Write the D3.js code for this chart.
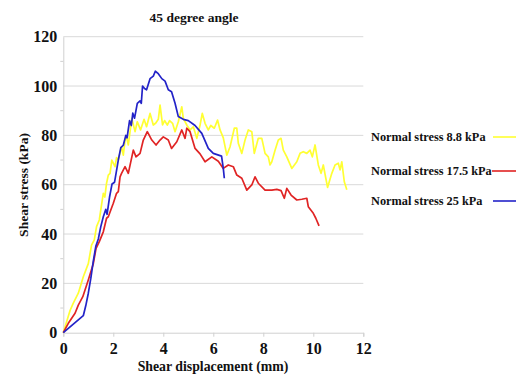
<!DOCTYPE html>
<html><head><meta charset="utf-8">
<script src="https://cdn.jsdelivr.net/npm/d3@7/dist/d3.min.js"></script>
<style>body{margin:0;background:#fff}svg{display:block}text{font-family:"Liberation Serif","Times New Roman",serif;font-weight:bold}</style>
</head><body><svg id="c" width="516" height="374"></svg>
<script>
const title = "45 degree angle";
const xLabel = "Shear displacement (mm)";
const yLabel = "Shear stress (kPa)";
const xTicks = [0,2,4,6,8,10,12];
const yTicks = [0,20,40,60,80,100,120];
const seriesNames = ["Normal stress 8.8 kPa","Normal stress 17.5 kPa","Normal stress 25 kPa"];
const seriesColors = ["#ffff33","#e02424","#2323c8"];

const yellow = [[0,0],[0.27,9],[0.4,12],[0.6,16],[0.8,22.7],[1.0,28],[1.13,35.5],[1.24,37.6],[1.33,43],[1.44,45.7],[1.54,52.5],[1.6,56.5],[1.66,55],[1.73,60.6],[1.8,63.9],[1.87,64.6],[1.94,70],[2.07,67.3],[2.13,71],[2.2,70],[2.33,75.4],[2.4,72],[2.47,78.1],[2.53,79.4],[2.6,76.1],[2.74,86.9],[2.87,81.5],[2.96,85.5],[3.09,82.2],[3.23,86.5],[3.33,83.5],[3.47,88.9],[3.6,84.2],[3.7,85],[3.8,86.5],[3.87,92.3],[3.97,84.2],[4.05,86],[4.16,84.2],[4.25,86],[4.37,84.9],[4.47,81.5],[4.6,85.5],[4.74,91.6],[4.8,86.9],[4.95,84],[5.07,82.2],[5.2,83.5],[5.34,78.8],[5.47,84.2],[5.56,88.9],[5.67,84.9],[5.8,82.2],[5.9,84],[6.04,82.9],[6.17,86.2],[6.27,82.2],[6.4,79],[6.54,72],[6.67,75.4],[6.84,82.9],[6.94,82.9],[7.0,76.8],[7.14,72.7],[7.27,78.1],[7.4,82.2],[7.54,81.5],[7.64,72.7],[7.8,78.8],[7.94,78.8],[8.07,72.7],[8.2,71.3],[8.27,68],[8.34,69.3],[8.47,74],[8.6,78.1],[8.71,78.8],[8.8,74],[8.94,71.3],[9.14,66.6],[9.34,69.3],[9.47,72.7],[9.6,73.4],[9.74,72.7],[9.87,74],[9.96,71.3],[10.07,76.1],[10.2,68],[10.31,64.6],[10.4,68],[10.57,58.9],[10.74,64.6],[10.87,68],[11.0,68.7],[11.07,66],[11.14,69.3],[11.24,61.2],[11.34,58]];

const red = [[0,0],[0.2,3.8],[0.47,7.9],[0.6,11.2],[0.78,14.6],[1.0,21.4],[1.2,28],[1.31,34.2],[1.44,36.9],[1.6,40.9],[1.73,46.4],[1.8,47],[2.0,52.5],[2.13,56.5],[2.2,57.2],[2.27,63.2],[2.33,64.6],[2.47,67.3],[2.6,64.6],[2.8,74],[2.91,71.3],[3.07,72.7],[3.2,78.1],[3.36,81.5],[3.54,78.1],[3.71,76.1],[3.87,78.1],[4.0,79.4],[4.2,78.1],[4.33,74.7],[4.54,77.4],[4.74,82.2],[4.87,78.8],[4.94,82.9],[5.07,81.5],[5.27,74.7],[5.47,72.5],[5.67,69.3],[5.94,71.3],[6.2,69.5],[6.4,66.6],[6.6,68],[6.8,67.3],[6.94,63.9],[7.14,62.6],[7.34,57.8],[7.54,59.9],[7.67,63.2],[7.8,60.6],[8.07,57.8],[8.34,57.8],[8.54,58.1],[8.71,57.6],[8.84,54.5],[8.94,58.5],[9.11,55.8],[9.34,53.8],[9.54,54.1],[9.74,54.5],[9.8,51.1],[10.0,48.4],[10.1,46.4],[10.23,43.3]];

const blue = [[0,0],[0.8,6.9],[0.9,11],[1.0,16],[1.1,22],[1.2,29],[1.3,35],[1.4,38],[1.5,43],[1.6,47],[1.7,50],[1.75,48],[1.85,55],[1.95,60.3],[2.05,61],[2.1,64],[2.2,70],[2.3,75],[2.4,76],[2.5,80],[2.55,79],[2.65,86],[2.72,84],[2.78,89],[2.85,87],[2.96,93],[3.07,94],[3.12,93],[3.17,100],[3.25,99],[3.33,98.5],[3.47,103],[3.6,104],[3.68,106],[3.8,105],[3.94,103],[4.07,102],[4.2,98.5],[4.33,97.7],[4.47,93],[4.6,87.6],[4.8,86.5],[5.0,86],[5.27,84],[5.54,80.8],[5.8,74.7],[6.0,72.7],[6.33,71.6],[6.4,66.6],[6.44,62.6]];

const series = [yellow, red, blue];

const svg = d3.select("#c");
const x = d3.scaleLinear().domain([0,12]).range([63.3,363.3]);
const y = d3.scaleLinear().domain([0,120]).range([332.7,36.7]);

// gridlines
svg.append("g").selectAll("line").data(yTicks.filter(d=>d>0)).join("line")
  .attr("x1",x(0)).attr("x2",x(12)).attr("y1",d=>y(d)).attr("y2",d=>y(d))
  .attr("stroke","#d9d9d9").attr("stroke-width",1);

// y axis
const yAxis = svg.append("g").attr("transform",`translate(${x(0)},0)`)
  .call(d3.axisLeft(y).tickValues(yTicks).tickSize(0).tickPadding(6));
yAxis.select(".domain").attr("stroke","#d0d0d0");
yAxis.selectAll("text").attr("font-size",16).attr("fill","#111")
  .style("font-family","'Liberation Serif',serif").style("font-weight","bold");
// minor y ticks
svg.append("g").selectAll("line").data(d3.range(10,120,20)).join("line")
  .attr("x1",x(0)-3).attr("x2",x(0)).attr("y1",d=>y(d)).attr("y2",d=>y(d))
  .attr("stroke","#d0d0d0");

// x axis
const xAxis = svg.append("g").attr("transform",`translate(0,${y(0)})`)
  .call(d3.axisBottom(x).tickValues(xTicks).tickSize(4).tickPadding(6));
xAxis.select(".domain").attr("stroke","#d0d0d0");
xAxis.selectAll(".tick line").attr("stroke","#d0d0d0");
xAxis.selectAll("text").attr("font-size",16).attr("fill","#111")
  .style("font-family","'Liberation Serif',serif").style("font-weight","bold");

// lines
const line = d3.line().x(d=>x(d[0])).y(d=>y(d[1]));
svg.append("g").selectAll("path").data(series).join("path")
  .attr("d",line).attr("fill","none")
  .attr("stroke",(d,i)=>seriesColors[i]).attr("stroke-width",1.7)
  .attr("stroke-linejoin","round");

// title & labels
svg.append("text").attr("x",194).attr("y",22).attr("text-anchor","middle")
  .attr("font-size",13.5).attr("fill","#111").text(title);
svg.append("text").attr("x",213).attr("y",371).attr("text-anchor","middle")
  .attr("font-size",13.8).attr("fill","#111").text(xLabel);
svg.append("text").attr("transform","translate(28,185) rotate(-90)").attr("text-anchor","middle")
  .attr("font-size",13.5).attr("fill","#111").text(yLabel);

// legend
const legY = [137,171,201];
const leg = svg.append("g").selectAll("g").data(seriesNames).join("g")
  .attr("transform",(d,i)=>`translate(0,${legY[i]})`);
leg.append("text").attr("x",371).attr("y",4).attr("font-size",12.3).attr("fill","#111").text(d=>d);
leg.append("line").attr("x1",(d,i)=>[493,492,493][i]).attr("x2",516).attr("y1",0).attr("y2",0)
  .attr("stroke",(d,i)=>seriesColors[i]).attr("stroke-width",1.6);
</script></body></html>
